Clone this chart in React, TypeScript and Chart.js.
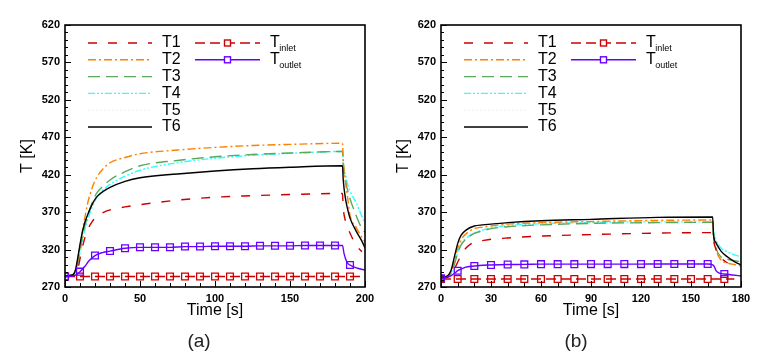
import React, { useEffect, useRef } from 'react';
import { Chart, registerables } from 'chart.js';

Chart.register(...registerables);

const FONT = "'Liberation Sans', Arial, sans-serif";

// ---------- Panel (a) ----------
const TIME_A = [0, 5, 7, 9, 11, 13, 15, 18, 21, 25, 30, 40, 50, 75, 100, 125, 150, 185, 185.5, 187, 188.3, 190, 194, 198, 200];
const T1_A = [284, 285, 288, 298, 318, 334, 346, 357, 364, 369, 373, 377, 380, 386, 390, 392, 393.5, 395, 376, 358, 350, 342, 326, 317, null];
const T2_A = [285, 286, 292, 312, 337, 360, 381, 402, 416, 427, 436, 443, 448, 453, 456.5, 459, 460.5, 462, 440, 410, 391, 366, 350, 336, 330];
const T3_A = [285, 286, 291, 308, 330, 350, 364, 382, 395, 404, 413, 424, 432, 439, 444, 447, 449, 451, 432, 412, 400, 388, 366, 348, 343];
const T4_A = [285, 286, 290, 305, 326, 345, 359, 376, 389, 399, 407, 418, 426, 436, 442, 446, 448.5, 451, 437, 420, 408, 398, 383, 364, 355];
const T5_A = [285, 286, 292, 313, 336, 353, 364, 378, 388, 395, 401, 410, 415, 421, 425, 428, 430, 432, 414, 390, 377, 364, 346, 332, 324];
const T6_A = [285, 286, 293, 315, 338, 355, 366, 380, 390, 397, 403, 411, 416, 421, 425, 428, 430, 432, 413, 388, 375, 362, 345, 331, 322];

const TOUT_TIME_A = [0, 5, 7, 10, 13, 16, 20, 25, 30, 40, 50, 60, 70, 80, 90, 100, 110, 120, 130, 140, 150, 160, 170, 180, 185, 186, 188, 190, 195, 200];
const TOUT_A = [284, 284.5, 286, 290.5, 297, 305, 312, 316, 318, 321.7, 323, 323, 323, 324, 324, 324.5, 324.5, 324.5, 325, 325, 325, 325.5, 325.5, 325.5, 325.5, 315, 303, 299.4, 295, 292.7];
const TIN_TIME_A = [0, 10, 20, 30, 40, 50, 60, 70, 80, 90, 100, 110, 120, 130, 140, 150, 160, 170, 180, 190, 198];
const TIN_A = [284, 284, 284, 284, 284, 284, 284, 284, 284, 284, 284, 284, 284, 284, 284, 284, 284, 284, 284, 284, 284];

// ---------- Panel (b) ----------
const TIME_B = [0, 4, 6, 8, 10, 12, 15, 20, 25, 30, 40, 60, 90, 130, 163, 163.5, 165, 168, 172, 176, 180];
const T1_B = [282, 283, 286, 294, 303, 312, 322, 330, 332, 333.7, 335.5, 338, 340, 342, 342.6, 333, 320, 309, 302, null, null];
const T2_B = [283, 284.5, 290, 305, 322, 333, 341, 348, 350, 351.5, 354, 356, 357.5, 359, 359.5, 338, 320, 306, 302, 300, 298];
const T3_B = [283, 284, 288, 300, 315, 326, 334, 341.7, 345, 348, 350.5, 353, 355, 356, 356.4, 340, 322, 310, 307, 305, 303.8];
const T4_B = [283, 284, 288, 301, 316, 327, 335, 342, 346, 349, 352, 354.5, 356, 357, 357, 345, 333, 322, 317, 313, 310.5];
const T5_B = [283, 284, 289, 303, 319, 330, 338, 345, 348, 350.5, 353, 355.5, 357, 358, 358, 346, 334, 323, 317, 312, 308];
const T6_B = [283, 285, 292, 310, 328, 339, 346, 351.5, 353, 354, 356, 358.6, 360.4, 363, 363.5, 340, 329, 318, 310, 304, 299.5];

const TOUT_TIME_B = [0, 5, 8, 10, 13, 16, 20, 25, 30, 40, 50, 60, 70, 80, 90, 100, 110, 120, 130, 140, 150, 160, 163.5, 165, 167, 170, 175, 180];
const TOUT_B = [281.6, 284, 288, 291.8, 295, 297, 298, 299, 299.4, 300, 300.2, 300.5, 300.5, 300.5, 300.6, 300.6, 300.6, 300.6, 300.7, 300.7, 300.7, 300.7, 299, 292, 288.5, 287.4, 286, 284.7];
const TIN_TIME_B = [0, 10, 20, 30, 40, 50, 60, 70, 80, 90, 100, 110, 120, 130, 140, 150, 160, 170, 176];
const TIN_B = [280.7, 280.7, 280.7, 280.7, 280.7, 280.7, 280.7, 280.7, 280.7, 280.7, 280.7, 280.7, 280.7, 280.7, 280.7, 280.7, 280.7, 280.7, 280.7];

// ---------- Axes ----------
const Y_MIN = 270;
const Y_MAX = 620;
const Y_STEP = 50;
const Y_MINOR = 10;
const X_MAX_A = 200;
const X_STEP_A = 50;
const X_MAX_B = 180;
const X_STEP_B = 30;
const X_MINOR = 10;
const MARKER_STEP = 10;
const MARKER_LAST_A = 190;
const MARKER_LAST_B = 170;

const X_TITLE = 'Time [s]';
const Y_TITLE = 'T [K]';
const LABELS = ['T1', 'T2', 'T3', 'T4', 'T5', 'T6'];
const CAPTIONS = ['(a)', '(b)'];

// styles
const STYLE = [
  { color: '#cc0000', dash: [9, 11] },
  { color: '#ff8000', dash: [8, 3, 2, 3] },
  { color: '#5aa85a', dash: [12, 6] },
  { color: '#33ffff', dash: [7, 2, 2, 2, 2, 2] },
  { color: '#f3f3f3', dash: [2, 2] },
  { color: '#000000', dash: [] },
];
const TIN_STYLE = { color: '#cc0000', dash: [10, 5] };
const TOUT_STYLE = { color: '#6a00ff', dash: [] };

function pts(times: number[], vals: (number | null)[]) {
  return vals.map((v, i) => ({ x: times[i], y: v }));
}

const framePlugin = {
  id: 'frameTicks',
  afterDatasetsDraw(chart: any, _args: any, opts: any) {
    const { ctx, chartArea: a, scales } = chart;
    ctx.save();
    ctx.strokeStyle = '#000';
    ctx.lineWidth = 1;
    ctx.setLineDash([]);
    ctx.beginPath();
    for (let v = Y_MIN; v <= Y_MAX; v += Y_MINOR) {
      const y = Math.round(scales.y.getPixelForValue(v)) + 0.5;
      const len = (v - Y_MIN) % Y_STEP === 0 ? 6 : 3;
      ctx.moveTo(a.left, y);
      ctx.lineTo(a.left + len, y);
    }
    for (let v = 0; v <= opts.xMax; v += X_MINOR) {
      const x = Math.round(scales.x.getPixelForValue(v)) + 0.5;
      const len = v % opts.xStep === 0 ? 6 : 4;
      ctx.moveTo(x, a.bottom);
      ctx.lineTo(x, a.bottom - len);
    }
    ctx.stroke();
    ctx.lineWidth = 1.6;
    ctx.strokeRect(a.left, a.top, a.right - a.left, a.bottom - a.top);
    ctx.restore();
  },
};

const legendPlugin = {
  id: 'customLegend',
  afterDraw(chart: any) {
    const { ctx, chartArea: a } = chart;
    ctx.save();
    const rowY = (r: number) => a.top + 18 + r * 16.8;
    const drawLine = (x1: number, x2: number, y: number, st: any, marker: boolean) => {
      ctx.strokeStyle = st.color;
      ctx.lineWidth = 1.4;
      ctx.setLineDash(st.dash);
      ctx.beginPath();
      ctx.moveTo(x1, y);
      ctx.lineTo(x2, y);
      ctx.stroke();
      ctx.setLineDash([]);
      if (marker) {
        const xm = (x1 + x2) / 2;
        ctx.fillStyle = '#fff';
        ctx.fillRect(xm - 3, y - 3, 6, 6);
        ctx.strokeRect(xm - 3, y - 3, 6, 6);
      }
    };
    ctx.textBaseline = 'middle';
    ctx.fillStyle = '#000';
    LABELS.forEach((lab, i) => {
      const y = rowY(i);
      drawLine(a.left + 23, a.left + 87, y, STYLE[i], false);
      ctx.font = `16px ${FONT}`;
      ctx.fillStyle = '#000';
      ctx.fillText(lab, a.left + 97, y);
    });
    const subs = [
      { sub: 'inlet', st: TIN_STYLE },
      { sub: 'outlet', st: TOUT_STYLE },
    ];
    subs.forEach((s, i) => {
      const y = rowY(i);
      drawLine(a.left + 130, a.left + 195, y, s.st, true);
      ctx.font = `16px ${FONT}`;
      ctx.fillStyle = '#000';
      ctx.fillText('T', a.left + 205, y);
      const w = ctx.measureText('T').width;
      ctx.font = `9px ${FONT}`;
      ctx.fillText(s.sub, a.left + 205 + w - 0.5, y + 6);
    });
    ctx.restore();
  },
};

function buildConfig(panel: 'a' | 'b') {
  const isA = panel === 'a';
  const time = isA ? TIME_A : TIME_B;
  const series = isA ? [T1_A, T2_A, T3_A, T4_A, T5_A, T6_A] : [T1_B, T2_B, T3_B, T4_B, T5_B, T6_B];
  const xMax = isA ? X_MAX_A : X_MAX_B;
  const xStep = isA ? X_STEP_A : X_STEP_B;
  const markerLast = isA ? MARKER_LAST_A : MARKER_LAST_B;
  const toutT = isA ? TOUT_TIME_A : TOUT_TIME_B;
  const tout = isA ? TOUT_A : TOUT_B;
  const tinT = isA ? TIN_TIME_A : TIN_TIME_B;
  const tin = isA ? TIN_A : TIN_B;
  const radii = (ts: number[]) => ts.map((t) => (t % MARKER_STEP === 0 && t <= markerLast ? 4.8 : 0));

  const base = {
    borderWidth: 1.4,
    pointRadius: 0,
    pointHoverRadius: 0,
    cubicInterpolationMode: 'monotone',
    spanGaps: false,
    fill: false,
  };
  const tDatasets = series.map((vals, i) => ({
    ...base,
    label: LABELS[i],
    data: pts(time, vals),
    borderColor: STYLE[i].color,
    borderDash: STYLE[i].dash,
  }));
  const order = [5, 0, 1, 2, 3, 4];
  const datasets: any[] = [
    {
      ...base,
      label: 'Toutlet',
      data: pts(toutT, tout),
      borderColor: TOUT_STYLE.color,
      borderDash: TOUT_STYLE.dash,
      pointStyle: 'rect',
      pointRadius: radii(toutT),
      pointBackgroundColor: 'rgba(255,255,255,0)',
      pointBorderColor: TOUT_STYLE.color,
      pointBorderWidth: 1.3,
    },
    {
      ...base,
      label: 'Tinlet',
      data: pts(tinT, tin),
      borderColor: TIN_STYLE.color,
      borderDash: TIN_STYLE.dash,
      pointStyle: 'rect',
      pointRadius: radii(tinT),
      pointBackgroundColor: 'rgba(255,255,255,0)',
      pointBorderColor: TIN_STYLE.color,
      pointBorderWidth: 1.3,
    },
    ...order.map((i) => tDatasets[i]),
  ];

  const tickFont = { family: FONT, size: 11, weight: 'bold' as const };
  return {
    type: 'line' as const,
    data: { datasets },
    plugins: [framePlugin, legendPlugin],
    options: {
      animation: false,
      responsive: false,
      devicePixelRatio: 1,
      layout: { padding: { top: 25, right: 32, bottom: 0, left: 0 } },
      plugins: {
        legend: { display: false },
        tooltip: { enabled: false },
        frameTicks: { xMax, xStep },
      },
      scales: {
        x: {
          type: 'linear',
          min: 0,
          max: xMax,
          afterFit: (s: any) => {
            s.height = 69;
          },
          grid: { display: false, drawTicks: false },
          border: { display: false },
          ticks: { stepSize: xStep, autoSkip: false, maxRotation: 0, padding: 5, color: '#000', font: tickFont },
          title: {
            display: true,
            text: X_TITLE,
            color: '#000',
            font: { family: FONT, size: 16 },
            padding: { top: 0, bottom: 36 },
          },
        },
        y: {
          type: 'linear',
          min: Y_MIN,
          max: Y_MAX,
          afterFit: (s: any) => {
            s.width = 65;
          },
          grid: { display: false, drawTicks: false },
          border: { display: false },
          ticks: { stepSize: Y_STEP, autoSkip: false, padding: 5, color: '#000', font: tickFont },
          title: {
            display: true,
            text: Y_TITLE,
            color: '#000',
            font: { family: FONT, size: 16 },
            padding: { top: 18, bottom: 0 },
          },
        },
      },
    },
  };
}

function Panel({ panel, left }: { panel: 'a' | 'b'; left: number }) {
  const ref = useRef<HTMLCanvasElement | null>(null);
  useEffect(() => {
    if (!ref.current) return;
    const chart = new Chart(ref.current, buildConfig(panel) as any);
    return () => chart.destroy();
  }, [panel]);
  return (
    <canvas
      ref={ref}
      width={397}
      height={356}
      style={{ position: 'absolute', left, top: 0, width: 397, height: 356 }}
    />
  );
}

export default function App() {
  const capStyle: React.CSSProperties = {
    position: 'absolute',
    top: 329,
    width: 60,
    textAlign: 'center',
    fontFamily: FONT,
    fontSize: 19,
    lineHeight: '24px',
    color: '#222',
  };
  return (
    <div style={{ position: 'fixed', left: 0, top: 0, width: 773, height: 356, background: '#fff', overflow: 'hidden' }}>
      <Panel panel="a" left={0} />
      <Panel panel="b" left={376} />
      <div style={{ ...capStyle, left: 199 - 30 }}>{CAPTIONS[0]}</div>
      <div style={{ ...capStyle, left: 576 - 30 }}>{CAPTIONS[1]}</div>
    </div>
  );
}
